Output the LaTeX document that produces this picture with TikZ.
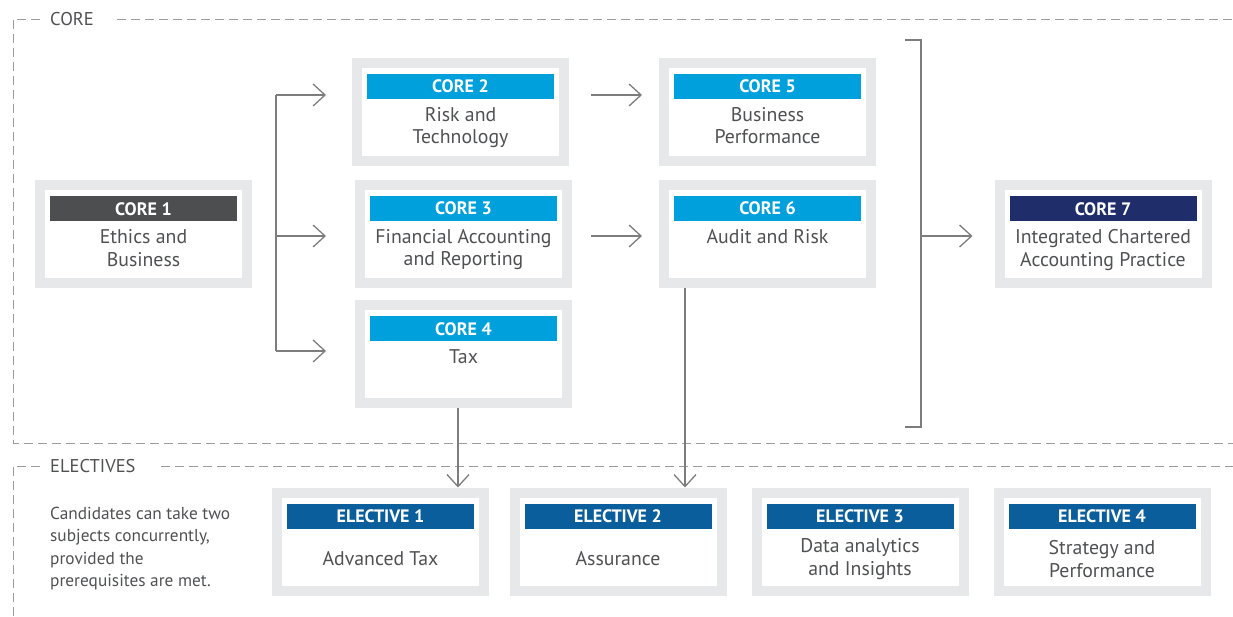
\documentclass[tikz,border=0pt]{standalone}
\usepackage{fontspec}
\setmainfont{PT Sans}
\usetikzlibrary{arrows.meta,positioning}

\definecolor{framegray}{HTML}{E7E8E9}
\definecolor{linegray}{HTML}{7D7D7D}
\definecolor{dashgray}{HTML}{9C9C9C}
\definecolor{textgray}{HTML}{505153}
\definecolor{coregray}{HTML}{4D4E50}
\definecolor{coreblue}{HTML}{00A0DC}
\definecolor{corenavy}{HTML}{1F2E6B}
\definecolor{electblue}{HTML}{0A5E9C}

\tikzset{
  box/.style={draw=framegray, line width=10pt, fill=white, minimum width=207pt, minimum height=98pt, inner sep=0pt},
  head/.style={fill=#1, text=white, font=\bfseries\fontsize{18}{18}\selectfont, minimum width=187pt, minimum height=25pt, inner sep=0pt},
  body/.style={text=textgray, font=\fontsize{19.8}{22.5}\selectfont, align=center, anchor=north, inner sep=0pt},
  wire/.style={draw=linegray, line width=1.3pt},
  link/.style={wire, -{Straight Barb[length=12pt,width=22pt,line width=1.3pt]}},
  group/.style={draw=dashgray, line width=1pt, dash pattern=on 9pt off 5pt},
  grouplabel/.style={text=textgray, font=\fontsize{18.5}{18.5}\selectfont, inner sep=0pt, anchor=west},
}

\newcommand\modulebox[5]{%
  \node[box] (#1) at (#2) {};
  \node[head=#3, below=16pt of #1.north] (#1h) {#4};
  \node[body, below=8pt of #1h] (#1b) {#5};
}
\newcommand\electivebox[5]{%
  \node[box] (#1) at (#2) {};
  \node[head=#3, below=16pt of #1.north] (#1h) {#4};
  \node[body, anchor=center] (#1b) at ([yshift=-30pt]#1h.south) {#5};
}

\begin{document}
\begin{tikzpicture}[x=1pt,y=-1pt]
  \useasboundingbox (0,0) rectangle (1233,616);

  % group frames
  \node[grouplabel] (core) at (50,19) {CORE};
  \draw[group] ([xshift=-10pt]core.west) -- (13,19) -- (13,443) -- (1233,443);
  \draw[group] ([xshift=23pt]core.east) -- (1233,19);
  \node[grouplabel] (elect) at (50,466) {ELECTIVES};
  \draw[group] ([xshift=-10pt]elect.west) -- (13,466) -- (13,616);
  \draw[group] ([xshift=25pt]elect.east) -- (1233,466);

  % core modules
  \modulebox{c1}{143.5,234}{coregray}{CORE 1}{Ethics and\\Business}
  \modulebox{c2}{460.5,111.5}{coreblue}{CORE 2}{Risk and\\Technology}
  \modulebox{c3}{463.5,233.5}{coreblue}{CORE 3}{Financial Accounting\\and Reporting}
  \modulebox{c4}{463.5,354}{coreblue}{CORE 4}{Tax}
  \modulebox{c5}{767.5,111.5}{coreblue}{CORE 5}{Business\\Performance}
  \modulebox{c6}{767.5,233.5}{coreblue}{CORE 6}{Audit and Risk}
  \modulebox{c7}{1103,234}{corenavy}{CORE 7}{Integrated Chartered\\Accounting Practice}

  % electives
  \electivebox{e1}{380.5,541.5}{electblue}{ELECTIVE 1}{Advanced Tax}
  \electivebox{e2}{618,541.5}{electblue}{ELECTIVE 2}{Assurance}
  \electivebox{e3}{860,541.5}{electblue}{ELECTIVE 3}{Data analytics\\and Insights}
  \electivebox{e4}{1102,541.5}{electblue}{ELECTIVE 4}{Strategy and\\Performance}

  \node[body, anchor=north west, align=left, font=\fontsize{17.3}{22.3}\selectfont] (note) at (50,507)
    {Candidates can take two\\subjects concurrently,\\provided the\\prerequisites are met.};

  % fork after core 1
  \coordinate (f2) at (276,95);
  \coordinate (f3) at (276,236);
  \coordinate (f4) at (276,351);
  \draw[wire] (f2) -- (f4);
  \draw[link, shorten >=26pt] (f2) -- (f2 -| c2.west);
  \draw[link, shorten >=29pt] (f3) -- (f3 -| c3.west);
  \draw[link, shorten >=29pt] (f4) -- (f4 -| c4.west);

  \draw[link, shorten <=22pt, shorten >=17pt] (f2 -| c2.east) -- (f2 -| c5.west);
  \draw[link, shorten <=19pt, shorten >=17pt] (f3 -| c3.east) -- (f3 -| c6.west);

  % bracket into core 7
  \coordinate (bt) at (921,40);
  \coordinate (bb) at (921,427);
  \draw[wire] ([xshift=-16pt]bt) -- (bt) -- (bb) -- ([xshift=-16pt]bb);
  \draw[link, shorten >=22pt] (f3 -| bt) -- (f3 -| c7.west);

  % down into electives
  \draw[link] ([xshift=-5.5pt]c4.south) -- ([xshift=-5.5pt]c4.south |- e1.north);
  \draw[link] ([xshift=-82.5pt]c6.south) -- ([xshift=-82.5pt]c6.south |- e2.north);
\end{tikzpicture}
\end{document}
